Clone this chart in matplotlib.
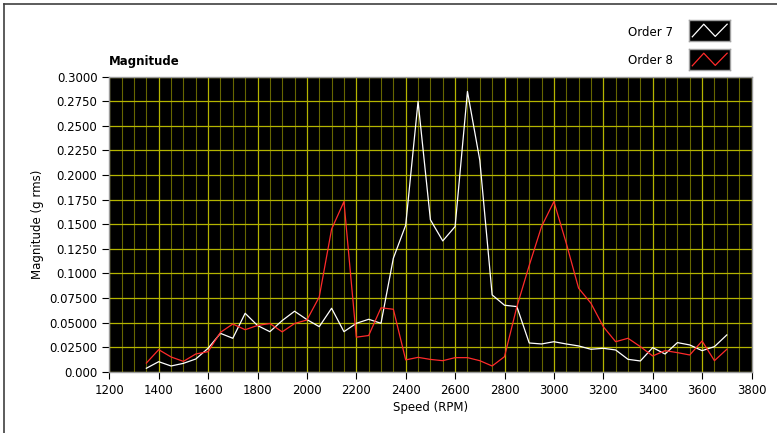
import numpy as np
import matplotlib
matplotlib.use("Agg")
import matplotlib.pyplot as plt
from matplotlib.ticker import MultipleLocator


speed = [1350, 1400, 1450, 1500, 1550, 1600, 1650, 1700, 1750, 1800,
         1850, 1900, 1950, 2000, 2050, 2100, 2150, 2200, 2250, 2300,
         2350, 2400, 2450, 2500, 2550, 2600, 2650, 2700, 2750, 2800,
         2850, 2900, 2950, 3000, 3050, 3100, 3150, 3200, 3250, 3300,
         3350, 3400, 3450, 3500, 3550, 3600, 3650, 3700]

order7 = [0.0035, 0.0102, 0.0058, 0.0085, 0.0129, 0.0238, 0.0390, 0.0340, 0.0594, 0.0470,
          0.0407, 0.0520, 0.0615, 0.0530, 0.0458, 0.0645, 0.0407, 0.0492, 0.0533, 0.0492,
          0.1154, 0.1490, 0.2749, 0.1545, 0.1330, 0.1476, 0.2850, 0.2150, 0.0781, 0.0676,
          0.0662, 0.0292, 0.0282, 0.0305, 0.0282, 0.0262, 0.0228, 0.0238, 0.0221, 0.0126,
          0.0109, 0.0245, 0.0180, 0.0296, 0.0272, 0.0214, 0.0255, 0.0374]

order8 = [0.0088, 0.0224, 0.0150, 0.0105, 0.0180, 0.0204, 0.0400, 0.0485, 0.0427, 0.0470,
          0.0490, 0.0405, 0.0490, 0.0526, 0.0760, 0.1450, 0.1730, 0.0351, 0.0368, 0.0650,
          0.0635, 0.0120, 0.0146, 0.0125, 0.0112, 0.0143, 0.0143, 0.0112, 0.0058, 0.0153,
          0.0660, 0.1080, 0.1476, 0.1730, 0.1307, 0.0849, 0.0696, 0.0458, 0.0305, 0.0340,
          0.0255, 0.0160, 0.0214, 0.0194, 0.0170, 0.0312, 0.0112, 0.0228]

y_ticks = [0.0, 0.025, 0.05, 0.075, 0.1, 0.125, 0.15, 0.175, 0.2, 0.225, 0.25, 0.275, 0.3]
y_tick_labels = ["0.000", "0.02500", "0.05000", "0.07500", "0.1000", "0.1250", "0.1500",
                 "0.1750", "0.2000", "0.2250", "0.2500", "0.2750", "0.3000"]
x_ticks = list(range(1200, 3801, 200))


def legend_icon(fig, rect, color):
    ax = fig.add_axes(rect)
    ax.set_facecolor("black")
    ax.plot([0.08, 0.36, 0.64, 0.93], [0.2, 0.8, 0.22, 0.8], color=color, lw=0.9)
    ax.set_xlim(0, 1)
    ax.set_ylim(0, 1)
    ax.set_xticks([])
    ax.set_yticks([])
    for s in ax.spines.values():
        s.set_color("#a0a0a0")
        s.set_linewidth(1.0)


def main():
    fig = plt.figure(figsize=(7.77, 4.33), dpi=100)
    fig.patch.set_facecolor("white")

    # outer panel border
    fig.add_artist(plt.Line2D([4 / 777, 4 / 777], [0, 1 - 4 / 433], color="#404040", lw=1.2))
    fig.add_artist(plt.Line2D([4 / 777, 1], [1 - 4 / 433, 1 - 4 / 433], color="#404040", lw=1.2))

    ax = fig.add_axes([109.3 / 777, 61.3 / 433, 642.2 / 777, 295 / 433])
    ax.set_facecolor("black")

    ax.plot(speed, order7, color="white", lw=0.9, zorder=3)
    ax.plot(speed, order8, color="#ff2a2a", lw=0.9, zorder=3)

    ax.set_xlim(1200, 3800)
    ax.set_ylim(0, 0.3)
    ax.set_xticks(x_ticks)
    ax.set_yticks(y_ticks)
    ax.set_yticklabels(y_tick_labels)
    ax.xaxis.set_minor_locator(MultipleLocator(50))

    ax.grid(which="major", color="#b4b400", lw=0.9)
    ax.grid(which="minor", axis="x", color="#666600", lw=0.8)
    ax.set_axisbelow(True)

    ax.tick_params(which="major", direction="out", length=5, width=0.8,
                   colors="black", labelsize=8.5)
    ax.tick_params(which="minor", length=0)
    for s in ax.spines.values():
        s.set_color("#9a9a9a")
        s.set_linewidth(1.0)

    ax.set_xlabel("Speed (RPM)", fontsize=8.5, labelpad=3)
    ax.set_ylabel("Magnitude (g rms)", fontsize=8.5, labelpad=4)

    fig.text(109 / 777, 1 - 61 / 433, "Magnitude", fontsize=8.5, fontweight="bold",
             ha="left", va="center")

    fig.text(673 / 777, 1 - 32 / 433, "Order 7", fontsize=8.5, ha="right", va="center")
    fig.text(673 / 777, 1 - 60 / 433, "Order 8", fontsize=8.5, ha="right", va="center")
    legend_icon(fig, [689 / 777, 1 - 41 / 433, 41 / 777, 21 / 433], "white")
    legend_icon(fig, [689 / 777, 1 - 70 / 433, 41 / 777, 21 / 433], "#ff2a2a")

    plt.savefig("out.png", dpi=100)



main()
